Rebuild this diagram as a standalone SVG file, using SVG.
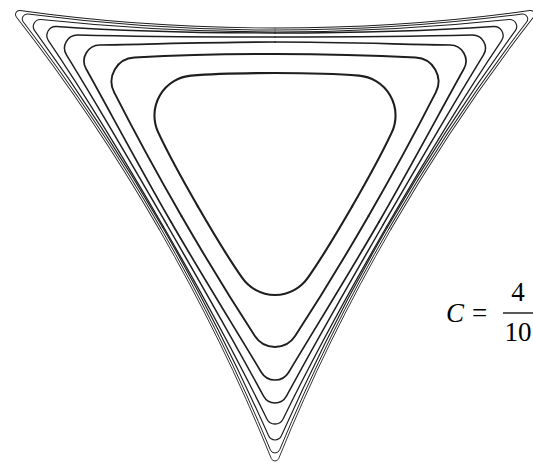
<svg xmlns="http://www.w3.org/2000/svg" width="533" height="463" viewBox="0 0 533 463">
<style>
.c{fill:none;stroke:#1e1e1e;stroke-linejoin:round;stroke-linecap:round}
.t{font-family:"Liberation Serif","Times New Roman",serif;font-size:27px;fill:#000}
</style>
<rect width="533" height="463" fill="#fff"/>
<defs>
<path id="p1" d="M-116.05,67 C-73.45,140.8 -35.6,217.5 -3.71,296.5 A4,4 0 0 0 3.71,296.5 C35.6,217.5 73.45,140.8 116.05,67"/>
<path id="p2" d="M-114.31,66 C-73.06,137.45 -36.19,211.69 -4.62,287.91 A5,5 0 0 0 4.62,287.91 C36.19,211.69 73.06,137.45 114.31,66"/>
<path id="p3" d="M-112.58,65 C-73.53,132.64 -38.15,202.51 -6.39,273.85 A7,7 0 0 0 6.39,273.85 C38.15,202.51 73.53,132.64 112.58,65"/>
<path id="p4" d="M-111.71,64.5 C-75.26,127.63 -40.05,191.43 -8.09,256.95 A9,9 0 0 0 8.09,256.95 C40.05,191.43 75.26,127.63 111.71,64.5"/>
<path id="p5" d="M-108.25,62.5 C-75.4,119.4 -42.77,176.46 -11.42,234.2 A13,13 0 0 0 11.42,234.2 C42.77,176.46 75.4,119.4 108.25,62.5"/>
<path id="p6" d="M-103.92,60 C-74.72,110.57 -43.8,160.18 -13.72,210.24 A16,16 0 0 0 13.72,210.24 C43.8,160.18 74.72,110.57 103.92,60"/>
<path id="p7" d="M-93.53,54 C-70.08,94.62 -45.67,134.73 -20.13,174.07 A24,24 0 0 0 20.13,174.07 C45.67,134.73 70.08,94.62 93.53,54"/>
<path id="p8" d="M-77.08,44.5 C-62.08,70.48 -49.98,91.36 -32.77,115.94 A40,40 0 0 0 32.77,115.94 C49.98,91.36 62.08,70.48 77.08,44.5"/>
</defs>
<g transform="translate(275 162)">
<g id="curve1" class="c" stroke-width="0.9"><use href="#p1"/><use href="#p1" transform="rotate(120)"/><use href="#p1" transform="rotate(240)"/></g>
<g id="curve2" class="c" stroke-width="1.0"><use href="#p2"/><use href="#p2" transform="rotate(120)"/><use href="#p2" transform="rotate(240)"/></g>
<g id="curve3" class="c" stroke-width="1.15"><use href="#p3"/><use href="#p3" transform="rotate(120)"/><use href="#p3" transform="rotate(240)"/></g>
<g id="curve4" class="c" stroke-width="1.3"><use href="#p4"/><use href="#p4" transform="rotate(120)"/><use href="#p4" transform="rotate(240)"/></g>
<g id="curve5" class="c" stroke-width="1.5"><use href="#p5"/><use href="#p5" transform="rotate(120)"/><use href="#p5" transform="rotate(240)"/></g>
<g id="curve6" class="c" stroke-width="1.7"><use href="#p6"/><use href="#p6" transform="rotate(120)"/><use href="#p6" transform="rotate(240)"/></g>
<g id="curve7" class="c" stroke-width="1.9"><use href="#p7"/><use href="#p7" transform="rotate(120)"/><use href="#p7" transform="rotate(240)"/></g>
<g id="curve8" class="c" stroke-width="2.1"><use href="#p8"/><use href="#p8" transform="rotate(120)"/><use href="#p8" transform="rotate(240)"/></g>
</g>
<g id="label">
<text class="t" x="446" y="322" font-style="italic">C</text>
<text class="t" x="472" y="322">=</text>
<text class="t" x="518" y="301" text-anchor="middle">4</text>
<line x1="503" y1="313" x2="533" y2="313" stroke="#000" stroke-width="1.3"/>
<text class="t" x="518" y="341" text-anchor="middle">10</text>
</g>
</svg>
